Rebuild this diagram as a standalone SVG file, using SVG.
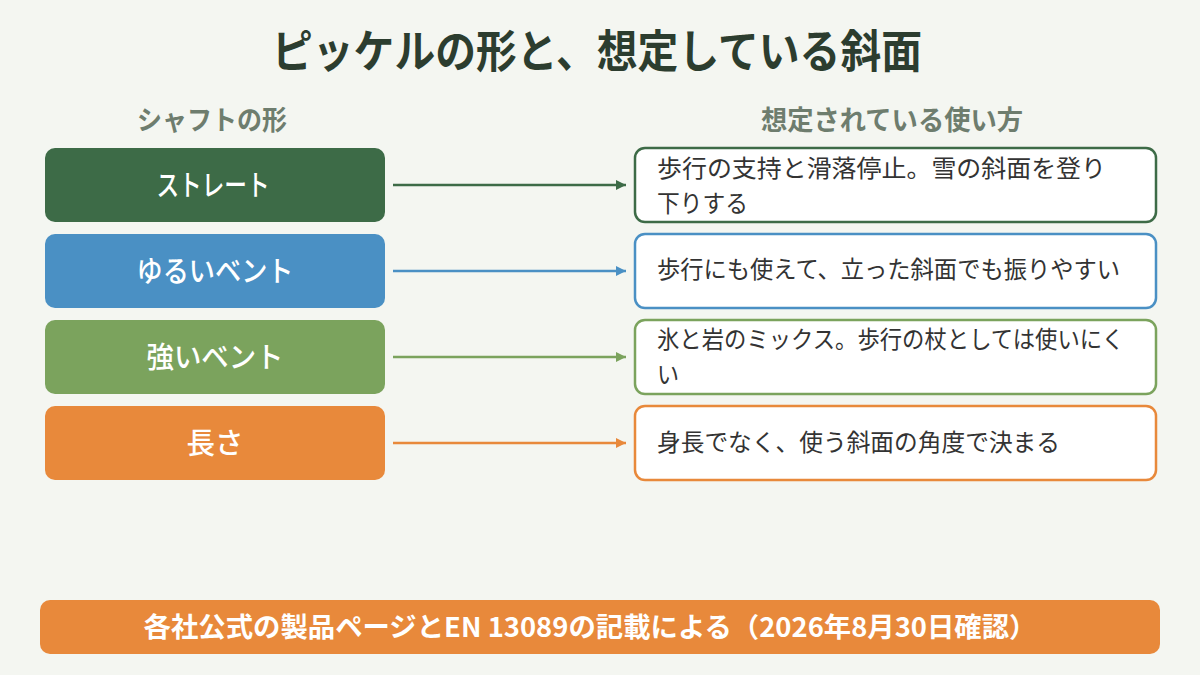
<svg xmlns="http://www.w3.org/2000/svg" width="1200" height="675" viewBox="0 0 1200 675">
<defs>
<style>
text{font-family:"Noto Sans CJK JP","Noto Sans",sans-serif}
.title{font-size:45px;font-weight:700;fill:#2c3d2f;text-anchor:middle}
.head{font-size:27px;font-weight:700;fill:#6e7d6e;text-anchor:middle}
.lab{font-size:29px;font-weight:500;fill:#ffffff;text-anchor:middle}
.desc{font-size:24px;fill:#333333}
.out{fill:#ffffff;stroke-width:2.5}
.foot{font-size:27px;font-weight:700;fill:#ffffff;text-anchor:middle}
</style>
<marker id="ag" viewBox="0 0 10 10" refX="10" refY="5" markerWidth="4" markerHeight="4" orient="auto" markerUnits="strokeWidth"><path d="M0,0L10,5L0,10z" fill="#3d6b47"/></marker>
<marker id="ab" viewBox="0 0 10 10" refX="10" refY="5" markerWidth="4" markerHeight="4" orient="auto" markerUnits="strokeWidth"><path d="M0,0L10,5L0,10z" fill="#4a90c4"/></marker>
<marker id="al" viewBox="0 0 10 10" refX="10" refY="5" markerWidth="4" markerHeight="4" orient="auto" markerUnits="strokeWidth"><path d="M0,0L10,5L0,10z" fill="#7ba35d"/></marker>
<marker id="ao" viewBox="0 0 10 10" refX="10" refY="5" markerWidth="4" markerHeight="4" orient="auto" markerUnits="strokeWidth"><path d="M0,0L10,5L0,10z" fill="#e8893b"/></marker>
</defs>
<rect width="1200" height="675" fill="#f4f6f1"/>
<text class="title" x="597" y="68" textLength="650" lengthAdjust="spacingAndGlyphs">ピッケルの形と、想定している斜面</text>
<text class="head" x="212" y="130" textLength="150" lengthAdjust="spacingAndGlyphs">シャフトの形</text>
<text class="head" x="892" y="130" textLength="262" lengthAdjust="spacingAndGlyphs">想定されている使い方</text>

<g id="connectors" stroke-width="2.5" fill="none">
<line x1="393" y1="185" x2="626" y2="185" stroke="#3d6b47" marker-end="url(#ag)"/>
<line x1="393" y1="271" x2="626" y2="271" stroke="#4a90c4" marker-end="url(#ab)"/>
<line x1="393" y1="357" x2="626" y2="357" stroke="#7ba35d" marker-end="url(#al)"/>
<line x1="393" y1="443" x2="626" y2="443" stroke="#e8893b" marker-end="url(#ao)"/>
</g>

<g id="n-straight"><rect x="45" y="148" width="340" height="74" rx="10" fill="#3d6b47"/><text class="lab" x="213" y="196" textLength="113" lengthAdjust="spacingAndGlyphs">ストレート</text></g>
<g id="n-mild"><rect x="45" y="234" width="340" height="74" rx="10" fill="#4a90c4"/><text class="lab" x="215" y="282" textLength="157" lengthAdjust="spacingAndGlyphs">ゆるいベント</text></g>
<g id="n-strong"><rect x="45" y="320" width="340" height="74" rx="10" fill="#7ba35d"/><text class="lab" x="215" y="368" textLength="137" lengthAdjust="spacingAndGlyphs">強いベント</text></g>
<g id="n-length"><rect x="45" y="406" width="340" height="74" rx="10" fill="#e8893b"/><text class="lab" x="215" y="454" textLength="57" lengthAdjust="spacingAndGlyphs">長さ</text></g>

<g id="d-straight"><rect class="out" x="635" y="148" width="521" height="74" rx="10" stroke="#3d6b47"/><text class="desc" x="657" y="177" textLength="449" lengthAdjust="spacingAndGlyphs">歩行の支持と滑落停止。雪の斜面を登り</text><text class="desc" x="657" y="212" textLength="91" lengthAdjust="spacingAndGlyphs">下りする</text></g>
<g id="d-mild"><rect class="out" x="635" y="234" width="521" height="74" rx="10" stroke="#4a90c4"/><text class="desc" x="657" y="278" textLength="463" lengthAdjust="spacingAndGlyphs">歩行にも使えて、立った斜面でも振りやすい</text></g>
<g id="d-strong"><rect class="out" x="635" y="320" width="521" height="74" rx="10" stroke="#7ba35d"/><text class="desc" x="657" y="348" textLength="467" lengthAdjust="spacingAndGlyphs">氷と岩のミックス。歩行の杖としては使いにく</text><text class="desc" x="657" y="383" textLength="22" lengthAdjust="spacingAndGlyphs">い</text></g>
<g id="d-length"><rect class="out" x="635" y="406" width="521" height="74" rx="10" stroke="#e8893b"/><text class="desc" x="657" y="451" textLength="403" lengthAdjust="spacingAndGlyphs">身長でなく、使う斜面の角度で決まる</text></g>

<g id="footer"><rect x="40" y="600" width="1120" height="54" rx="10" fill="#e8893b"/><text class="foot" x="590" y="637" textLength="893" lengthAdjust="spacingAndGlyphs">各社公式の製品ページとEN 13089の記載による（2026年8月30日確認）</text></g>
</svg>
